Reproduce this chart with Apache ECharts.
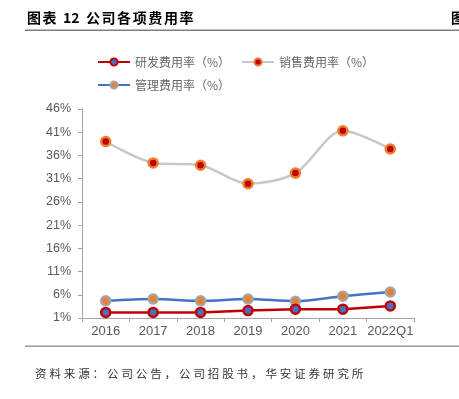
<!DOCTYPE html>
<html>
<head>
<meta charset="utf-8">
<style>
  html, body { margin: 0; padding: 0; background: #fff; }
  #chart { width: 459px; height: 399px; }
</style>
<script src="https://cdn.jsdelivr.net/npm/echarts@6/dist/echarts.min.js"></script>
</head>
<body>
<div id="chart"></div>
<script>
// data
var years = ['2016', '2017', '2018', '2019', '2020', '2021', '2022Q1'];
var rdRate = [2.2, 2.2, 2.2, 2.6, 2.9, 2.9, 3.6];
var salesRate = [39.0, 34.4, 33.9, 29.9, 32.2, 41.3, 37.4];
var mgmtRate = [4.7, 5.1, 4.7, 5.1, 4.6, 5.7, 6.6];
var names = ['研发费用率（%）', '销售费用率（%）', '管理费用率（%）'];

var cjk = '"Noto Sans CJK SC", "Noto Sans", sans-serif';
var gray = '#595959';

// draws a string one glyph at a time so we can add letter spacing
var measureCtx = document.createElement('canvas').getContext('2d');
spacedText = function(str, x, y, font, spacing, fill) {
  measureCtx.font = font;
  var items = [];
  var cx = x;
  for (var i = 0; i < str.length; i++) {
    var ch = str[i];
    items.push({type: 'text', x: cx, y: y,
      style: {text: ch, font: font, fill: fill, verticalAlign: 'middle'}});
    // no extra gap between digits
    var next = str[i + 1];
    var gap = (/[0-9]/.test(ch) && next && /[0-9]/.test(next)) ? 0 : spacing;
    cx += measureCtx.measureText(ch).width + gap;
  }
  return {type: 'group', children: items};
};

var myChart = echarts.init(document.getElementById('chart'), null, {renderer: 'canvas'});

var option = {
  animation: false,
  backgroundColor: '#fff',
  graphic: [
    spacedText('图表 12 公司各项费用率', 27, 18, 'bold 14px ' + cjk, 1.6, '#000'),
    spacedText('图', 451, 18, 'bold 14px ' + cjk, 0, '#000'),
    {type: 'rect', shape: {x: 25, y: 29.5, width: 434, height: 1.5},
     style: {fill: '#7f7f7f'}},
    {type: 'rect', shape: {x: 25, y: 345.5, width: 434, height: 1.5},
     style: {fill: '#9a9a9a'}},
    spacedText('资料来源：公司公告，公司招股书，华安证券研究所', 35, 374, '11.5px ' + cjk, 2.9, '#333')
  ],
  legend: {
    left: 92,
    top: 51,
    width: 290,
    itemWidth: 32,
    itemHeight: 9,
    itemGap: 11,
    textStyle: {fontFamily: cjk, fontSize: 12, color: '#666'},
    data: names
  },
  grid: {left: 82, right: 45, top: 109, bottom: 81},
  xAxis: {
    type: 'category',
    data: years,
    boundaryGap: true,
    axisLine: {lineStyle: {color: '#a6a6a6', width: 1}},
    axisTick: {show: true, length: 4, lineStyle: {color: '#a6a6a6'}},
    axisLabel: {color: gray, fontSize: 13, interval: 0, hideOverlap: false,
      fontFamily: 'Liberation Sans, Arial, sans-serif', margin: 7}
  },
  yAxis: {
    type: 'value',
    min: 1,
    max: 46,
    interval: 5,
    axisLine: {show: true, lineStyle: {color: '#a6a6a6', width: 1}},
    axisTick: {show: true, length: 4, lineStyle: {color: '#a6a6a6'}},
    splitLine: {show: false},
    axisLabel: {color: gray, fontSize: 12.5, fontFamily: 'Liberation Sans, Arial, sans-serif', margin: 11,
      formatter: function (v) { return v + '%'; }}
  },
  series: [
    {
      name: names[0],
      type: 'line',
      data: rdRate,
      symbol: 'circle',
      symbolSize: 9,
      lineStyle: {color: '#c00000', width: 2.5},
      itemStyle: {color: '#4472c4', borderColor: '#c00000', borderWidth: 2.5},
      z: 4
    },
    {
      name: names[1],
      type: 'line',
      data: salesRate,
      smooth: 0.3,
      symbol: 'circle',
      symbolSize: 9,
      lineStyle: {color: '#c8c8c8', width: 2.5},
      itemStyle: {color: '#c00000', borderColor: '#ed7d31', borderWidth: 2.5},
      z: 3
    },
    {
      name: names[2],
      type: 'line',
      data: mgmtRate,
      smooth: 0.3,
      symbol: 'circle',
      symbolSize: 9,
      lineStyle: {color: '#4472c4', width: 2.5},
      itemStyle: {color: '#ed7d31', borderColor: '#a5a5a5', borderWidth: 2.5},
      z: 3
    }
  ]
};
myChart.setOption(option);
</script>
</body>
</html>
